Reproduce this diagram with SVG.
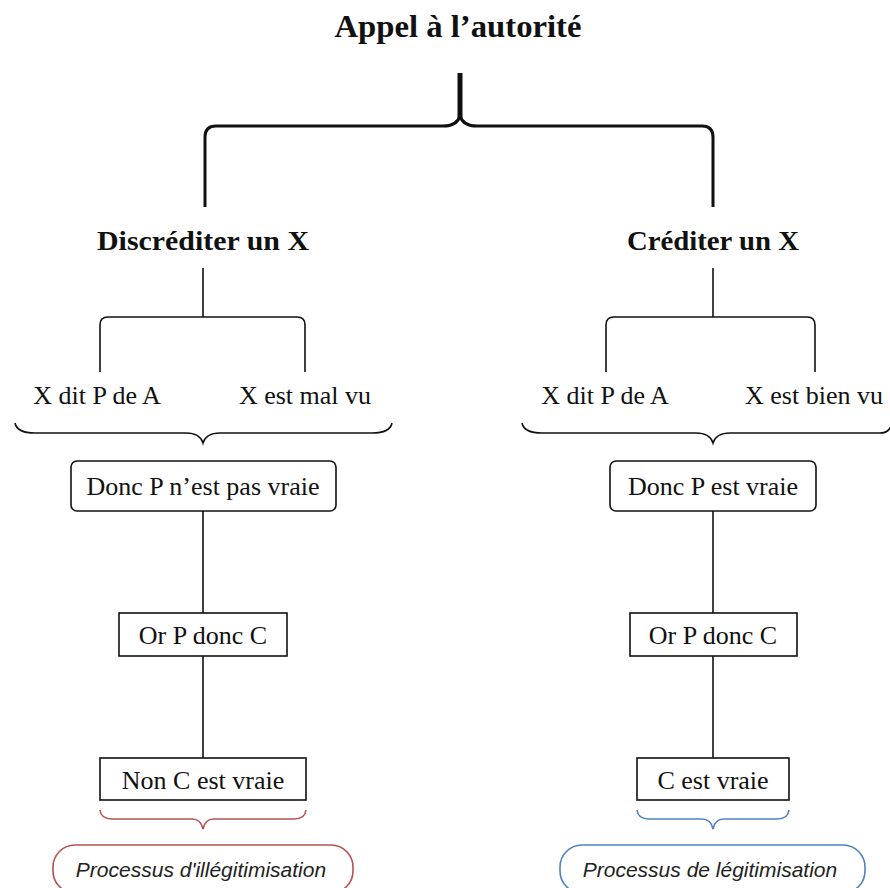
<svg xmlns="http://www.w3.org/2000/svg" width="890" height="888" viewBox="0 0 890 888">
<style>
.t{font-family:"Liberation Serif","DejaVu Serif",serif;font-size:26px;fill:#111;text-anchor:middle}
.h{font-family:"Liberation Serif","DejaVu Serif",serif;font-weight:bold;fill:#111;text-anchor:middle}
.p{font-family:"Liberation Sans",Arial,sans-serif;font-style:italic;font-size:21px;fill:#222;text-anchor:middle}
.ln{fill:none;stroke:#111;stroke-width:1.6}
.box{fill:#fff;stroke:#111;stroke-width:1.6}
</style>
<rect width="890" height="888" fill="#fff"/>
<g id="title"><text class="h" x="458" y="37" font-size="31" textLength="247" lengthAdjust="spacingAndGlyphs">Appel à l’autorité</text></g>
<g id="connectors">
<line x1="460" y1="73" x2="460" y2="118" stroke="#111" stroke-width="5"/>
<path d="M205,207 V137 Q205,126 216,126 H443 Q457,126 460,116 Q463,126 477,126 H702 Q713,126 713,137 V207" fill="none" stroke="#111" stroke-width="3"/>
<line class="ln" x1="203" y1="268" x2="203" y2="317"/>
<path class="ln" d="M100,372 V325 Q100,317 108,317 H297 Q305,317 305,325 V372"/>
<path class="ln" d="M15,423 Q17,433 35,433 H186 Q200,433 203,443 Q206,433 220,433 H372 Q390,433 392,423"/>
<line class="ln" x1="203" y1="511" x2="203" y2="613"/>
<line class="ln" x1="203" y1="656" x2="203" y2="758"/>
<path d="M100,810 Q101,819 112,819 H192 Q201,819 203,829 Q205,819 214,819 H294 Q305,819 306,810" fill="none" stroke="#b5504f" stroke-width="1.6"/>
<line class="ln" x1="713" y1="268" x2="713" y2="317"/>
<path class="ln" d="M606,372 V325 Q606,317 614,317 H807 Q815,317 815,325 V372"/>
<path class="ln" d="M522,423 Q524,433 542,433 H696 Q710,433 713,443 Q716,433 730,433 H880 Q890,433 892,423"/>
<line class="ln" x1="713" y1="511" x2="713" y2="613"/>
<line class="ln" x1="713" y1="656" x2="713" y2="758"/>
<path d="M637,810 Q638,819 649,819 H702 Q711,819 713,829 Q715,819 724,819 H777 Q788,819 789,810" fill="none" stroke="#4f81bd" stroke-width="1.6"/>
</g>
<g id="discrediter"><text class="h" x="203" y="250" font-size="27" textLength="212" lengthAdjust="spacingAndGlyphs">Discréditer un X</text></g>
<g id="crediter"><text class="h" x="713" y="250" font-size="27" textLength="172" lengthAdjust="spacingAndGlyphs">Créditer un X</text></g>
<g id="l-dit"><text class="t" x="97" y="404">X dit P de A</text></g>
<g id="l-mal"><text class="t" x="305" y="404">X est mal vu</text></g>
<g id="r-dit"><text class="t" x="605" y="404">X dit P de A</text></g>
<g id="r-bien"><text class="t" x="814" y="404">X est bien vu</text></g>
<g id="l-donc"><rect class="box" x="71" y="461" width="265" height="50" rx="6"/><text class="t" x="203" y="495">Donc P n’est pas vraie</text></g>
<g id="l-or"><rect class="box" x="119" y="613" width="168" height="43"/><text class="t" x="203" y="644">Or P donc C</text></g>
<g id="l-non"><rect class="box" x="100" y="758" width="206" height="42"/><text class="t" x="203" y="789">Non C est vraie</text></g>
<g id="l-proc"><rect x="53" y="845" width="300" height="48" rx="22" fill="#fff" stroke="#b5504f" stroke-width="1.6"/><text class="p" x="201" y="877">Processus d'illégitimisation</text></g>
<g id="r-donc"><rect class="box" x="610" y="461" width="206" height="50" rx="6"/><text class="t" x="713" y="495">Donc P est vraie</text></g>
<g id="r-or"><rect class="box" x="630" y="613" width="167" height="43"/><text class="t" x="713" y="644">Or P donc C</text></g>
<g id="r-c"><rect class="box" x="637" y="758" width="152" height="42"/><text class="t" x="713" y="789">C est vraie</text></g>
<g id="r-proc"><rect x="560" y="845" width="305" height="48" rx="22" fill="#fff" stroke="#4f81bd" stroke-width="1.6"/><text class="p" x="710" y="877">Processus de légitimisation</text></g>
</svg>
